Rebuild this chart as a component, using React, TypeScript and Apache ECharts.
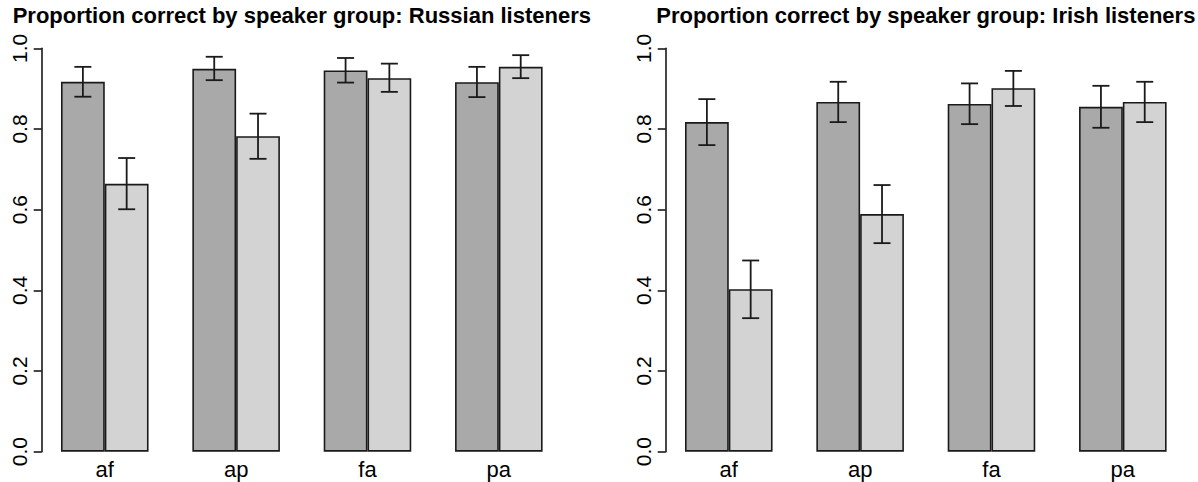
import React, { useEffect, useRef } from "react";
import * as echarts from "echarts";

const categories = ["af", "ap", "fa", "pa"];
const yTicks = [0, 0.2, 0.4, 0.6, 0.8, 1.0];

const titleRussian = "Proportion correct by speaker group: Russian listeners";
const titleIrish = "Proportion correct by speaker group: Irish listeners";

// Russian listeners
const rusDark = [0.917, 0.949, 0.945, 0.916];
const rusDarkLow = [0.880, 0.921, 0.915, 0.879];
const rusDarkHigh = [0.954, 0.979, 0.976, 0.954];
const rusLight = [0.664, 0.782, 0.926, 0.954];
const rusLightLow = [0.601, 0.726, 0.892, 0.926];
const rusLightHigh = [0.728, 0.838, 0.962, 0.983];

// Irish listeners
const irDark = [0.817, 0.867, 0.862, 0.855];
const irDarkLow = [0.760, 0.817, 0.812, 0.803];
const irDarkHigh = [0.874, 0.917, 0.913, 0.907];
const irLight = [0.403, 0.589, 0.901, 0.867];
const irLightLow = [0.331, 0.517, 0.857, 0.817];
const irLightHigh = [0.474, 0.661, 0.944, 0.917];

const FONT = '"Liberation Sans", Arial, Helvetica, sans-serif';
const DARK = "#a9a9a9";
const LIGHT = "#d3d3d3";
const INK = "#1a1a1a";

function errData(lo: number[], hi: number[]) {
  return lo.map((l, i) => [i, l, hi[i]]);
}

function errSeries(gridIdx: number, lo: number[], hi: number[], side: number) {
  return {
    type: "custom",
    xAxisIndex: gridIdx,
    yAxisIndex: gridIdx,
    z: 5,
    data: errData(lo, hi),
    encode: { x: 0, y: [1, 2] },
    renderItem: (params: any, api: any) => {
      const c = api.value(0);
      const p1 = api.coord([c, api.value(1)]);
      const p2 = api.coord([c, api.value(2)]);
      const band = api.size([1, 0])[0];
      const x = p1[0] + (side * band) / 6;
      const hw = 8.5;
      const st = { stroke: INK, lineWidth: 1.8 };
      return {
        type: "group",
        children: [
          { type: "line", shape: { x1: x, y1: p1[1], x2: x, y2: p2[1] }, style: st },
          { type: "line", shape: { x1: x - hw, y1: p1[1], x2: x + hw, y2: p1[1] }, style: st },
          { type: "line", shape: { x1: x - hw, y1: p2[1], x2: x + hw, y2: p2[1] }, style: st },
        ],
      };
    },
  };
}

function barSeries(gridIdx: number, data: number[], color: string) {
  return {
    type: "bar",
    xAxisIndex: gridIdx,
    yAxisIndex: gridIdx,
    data,
    barWidth: "33.333%",
    barGap: "0%",
    itemStyle: { color, borderColor: INK, borderWidth: 1.6 },
  };
}

function titleText(text: string, x: number) {
  return {
    type: "text",
    x,
    y: 15,
    style: {
      text,
      font: `bold 22px ${FONT}`,
      fill: "#000",
      align: "center",
      verticalAlign: "middle",
      textAlign: "center",
      textVerticalAlign: "middle",
    },
  };
}

export default function App() {
  const ref = useRef<HTMLDivElement>(null);
  useEffect(() => {
    if (!ref.current) return;
    const chart = echarts.init(ref.current, null, { renderer: "svg" });
    const xAxisBase = (gridIndex: number) => ({
      type: "category",
      gridIndex,
      data: categories,
      axisLine: { show: false },
      axisTick: { show: false },
      axisLabel: { fontSize: 22, fontFamily: FONT, color: "#000", margin: 7 },
    });
    const yAxisBase = (gridIndex: number) => ({
      type: "value",
      gridIndex,
      min: 0,
      max: 1,
      interval: 0.2,
      offset: -2.6,
      splitLine: { show: false },
      axisLine: { show: true, lineStyle: { color: INK, width: 1.6 } },
      axisTick: { show: true, length: 8, lineStyle: { color: INK, width: 1.6 } },
      axisLabel: {
        rotate: 90,
        fontSize: 21,
        fontFamily: FONT,
        color: "#000",
        margin: 12,
        formatter: (v: number) => {
          const idx = yTicks.findIndex((t) => Math.abs(t - v) < 1e-9);
          return idx >= 0 ? yTicks[idx].toFixed(1) : "";
        },
      },
    });
    chart.setOption({
      animation: false,
      backgroundColor: "#ffffff",
      grid: [
        { left: 39.1, right: 633.5, top: 48.3, bottom: 30.3 },
        { left: 663.1, right: 9.5, top: 48.3, bottom: 30.3 },
      ],
      xAxis: [xAxisBase(0), xAxisBase(1)],
      yAxis: [yAxisBase(0), yAxisBase(1)],
      graphic: [titleText(titleRussian, 301.8), titleText(titleIrish, 925.8)],
      series: [
        barSeries(0, rusDark, DARK),
        barSeries(0, rusLight, LIGHT),
        barSeries(1, irDark, DARK),
        barSeries(1, irLight, LIGHT),
        errSeries(0, rusDarkLow, rusDarkHigh, -1),
        errSeries(0, rusLightLow, rusLightHigh, 1),
        errSeries(1, irDarkLow, irDarkHigh, -1),
        errSeries(1, irLightLow, irLightHigh, 1),
      ],
    });
    return () => chart.dispose();
  }, []);
  return (
    <div
      ref={ref}
      style={{ position: "absolute", left: 0, top: 0, width: 1198, height: 482, background: "#fff" }}
    />
  );
}
